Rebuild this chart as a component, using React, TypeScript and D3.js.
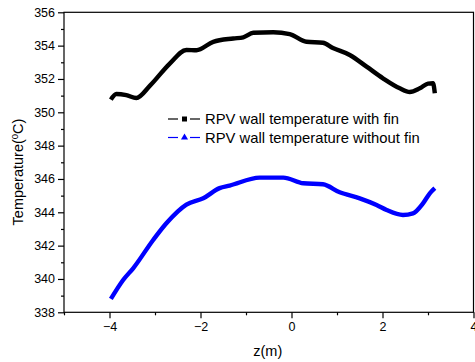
import React, { useEffect, useRef } from "react";
import * as d3 from "d3";

// wall temperature along z
const zWithFin = [-3.97, -3.85, -3.63, -3.41, -3.11, -2.67, -2.31, -2.09, -1.72, -1.28, -1.06, -0.84, -0.4, -0.04, 0.33, 0.69, 0.91, 1.28, 1.65, 2.01, 2.38, 2.6, 2.82, 3.0, 3.11, 3.15];
const tWithFin = [350.76, 351.1, 351.03, 350.86, 351.6, 352.94, 353.74, 353.72, 354.23, 354.43, 354.5, 354.77, 354.8, 354.69, 354.23, 354.17, 353.86, 353.44, 352.74, 352.04, 351.44, 351.22, 351.44, 351.72, 351.74, 351.14];

const zWithoutFin = [-3.97, -3.7, -3.48, -3.04, -2.75, -2.31, -1.94, -1.58, -1.36, -0.7, -0.18, 0.26, 0.69, 1.06, 1.5, 1.87, 2.09, 2.45, 2.67, 2.89, 3.04, 3.15];
const tWithoutFin = [338.8, 339.94, 340.64, 342.34, 343.34, 344.46, 344.84, 345.45, 345.6, 346.08, 346.08, 345.74, 345.68, 345.2, 344.84, 344.44, 344.14, 343.84, 343.94, 344.54, 345.14, 345.45];

const xMajor = [-4, -2, 0, 2, 4];
const xMinor = [-5, -3, -1, 1, 3];
const yMajor = [338, 340, 342, 344, 346, 348, 350, 352, 354, 356];
const yMinor = [339, 341, 343, 345, 347, 349, 351, 353, 355];

const legendLabels = ["RPV wall temperature with fin", "RPV wall temperature without fin"];

const W = 475;
const H = 362;
const FONT = "'Liberation Sans', Arial, sans-serif";

export default function App() {
  const ref = useRef<SVGSVGElement>(null);

  useEffect(() => {
    const svg = d3.select(ref.current);
    svg.selectAll("*").remove();

    const left = 64, right = 473.5, top = 12.3, bottom = 312.3;
    const x = d3.scaleLinear().domain([-5, 4]).range([left, right]);
    const y = d3.scaleLinear().domain([338, 356]).range([bottom, top]);

    // frame
    svg.append("rect")
      .attr("x", left).attr("y", top)
      .attr("width", right - left).attr("height", bottom - top)
      .attr("fill", "none").attr("stroke", "#000").attr("stroke-width", 1.2);

    const styleAxis = (g: any) => {
      g.select(".domain").remove();
      g.selectAll("line").attr("stroke", "#000").attr("stroke-width", 1.2);
      g.selectAll("text").attr("font-family", FONT).attr("font-size", 12.5).attr("fill", "#000");
    };

    svg.append("g").attr("transform", `translate(${left},0)`)
      .call(d3.axisLeft(y).tickValues(yMajor).tickSize(6).tickPadding(3).tickFormat(d3.format("d")))
      .call(styleAxis);
    svg.append("g").attr("transform", `translate(${left},0)`)
      .call(d3.axisLeft(y).tickValues(yMinor).tickSize(3).tickFormat(() => ""))
      .call(styleAxis);
    svg.append("g").attr("transform", `translate(0,${bottom})`)
      .call(d3.axisBottom(x).tickValues(xMajor).tickSize(6).tickPadding(4).tickFormat(d3.format("d")))
      .call(styleAxis);
    svg.append("g").attr("transform", `translate(0,${bottom})`)
      .call(d3.axisBottom(x).tickValues(xMinor).tickSize(3).tickFormat(() => ""))
      .call(styleAxis);

    // axis titles
    svg.append("text")
      .attr("x", (x(-5) + x(4)) / 2 - 1).attr("y", 356)
      .attr("text-anchor", "middle")
      .attr("font-family", FONT).attr("font-size", 14.5)
      .text("z(m)");

    const yt = svg.append("text")
      .attr("transform", `translate(23,${172}) rotate(-90)`)
      .attr("text-anchor", "middle")
      .attr("font-family", FONT).attr("font-size", 14.5);
    yt.append("tspan").text("Temperature(");
    yt.append("tspan").attr("dy", -5).attr("font-size", 9.5).text("0");
    yt.append("tspan").attr("dy", 5).text("C)");

    const line = d3.line<[number, number]>()
      .x(d => x(d[0]))
      .y(d => y(d[1]))
      .curve(d3.curveMonotoneX);

    const series = [
      { z: zWithFin, t: tWithFin, color: "#000000" },
      { z: zWithoutFin, t: tWithoutFin, color: "#0000ff" },
    ];

    series.forEach(s => {
      const pts = s.z.map((v, i) => [v, s.t[i]] as [number, number]);
      svg.append("path")
        .attr("d", line(pts))
        .attr("fill", "none")
        .attr("stroke", s.color)
        .attr("stroke-width", 4.4)
        .attr("stroke-linejoin", "round");
    });

    // legend
    const lg = svg.append("g").attr("font-family", FONT).attr("font-size", 14.8);
    legendLabels.forEach((label, i) => {
      const ly = 119 + i * 18.5;
      const color = series[i].color;
      lg.append("line").attr("x1", 168).attr("x2", 178).attr("y1", ly).attr("y2", ly)
        .attr("stroke", color).attr("stroke-width", 1.2);
      lg.append("line").attr("x1", 190).attr("x2", 200).attr("y1", ly).attr("y2", ly)
        .attr("stroke", color).attr("stroke-width", 1.2);
      if (i === 0) {
        lg.append("rect").attr("x", 182).attr("y", ly - 2.5).attr("width", 5).attr("height", 5).attr("fill", color);
      } else {
        lg.append("path").attr("d", d3.symbol(d3.symbolTriangle, 22)()!)
          .attr("transform", `translate(184.5,${ly})`).attr("fill", color);
      }
      lg.append("text").attr("x", 205).attr("y", ly + 5).text(label);
    });
  }, []);

  return (
    <svg ref={ref} width={W} height={H}
      style={{ position: "absolute", left: 0, top: 0, background: "#fff" }} />
  );
}
